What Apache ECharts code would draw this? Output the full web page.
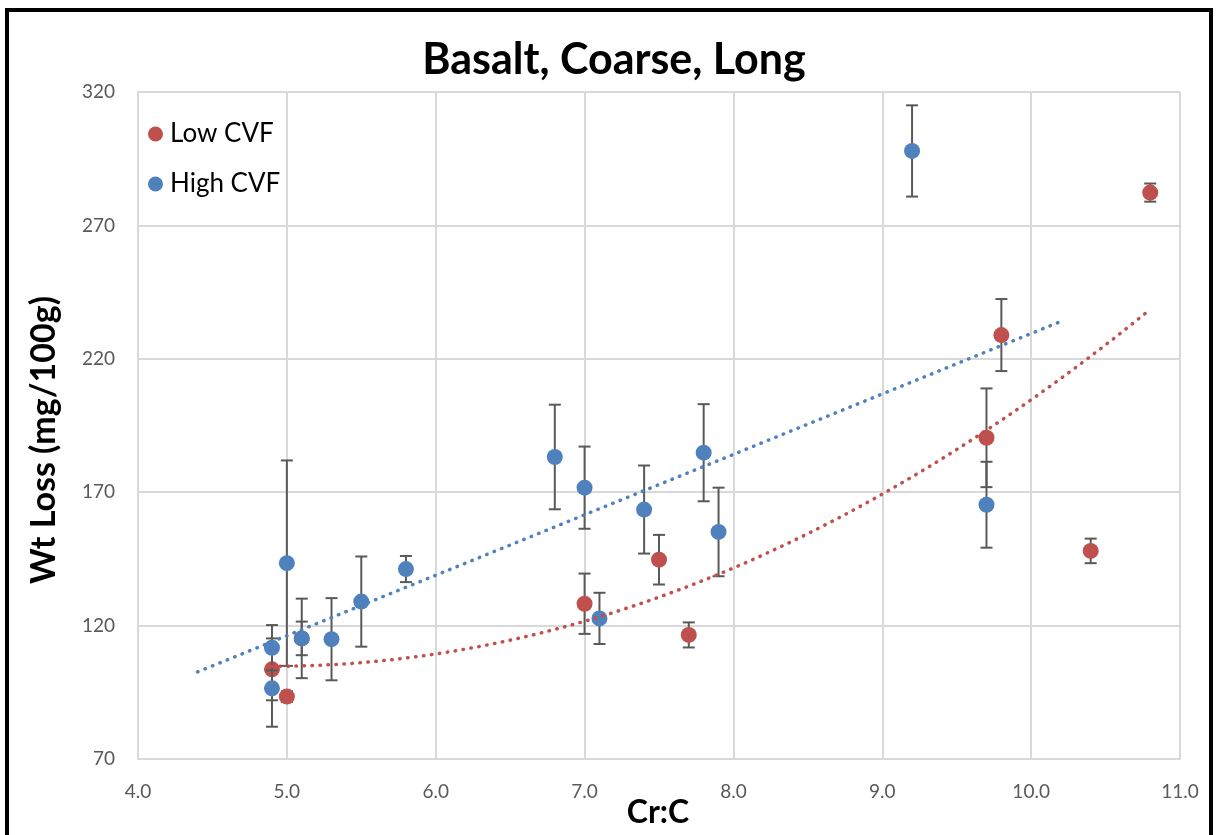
<!DOCTYPE html>
<html>
<head>
<meta charset="utf-8">
<script src="https://cdn.jsdelivr.net/npm/echarts@6/dist/echarts.min.js"></script>
<style>
html,body{margin:0;padding:0;background:#fff;}
#chart{width:1218px;height:835px;}
</style>
</head>
<body>
<div id="chart"></div>
<script>
// ---- data ----
const title = 'Basalt, Coarse, Long';
const xName = 'Cr:C';
const yName = 'Wt Loss (mg/100g)';
const seriesNames = ['Low CVF', 'High CVF'];

const lowX   = [4.9, 5.0, 5.1, 7.0, 7.5, 7.7, 9.7, 9.8, 10.4, 10.8];
const lowY   = [103.6, 93.4, 115.2, 128.2, 144.7, 116.5, 190.4, 228.9, 148.0, 282.3];
const lowErr = [11.6, 2.0, 6.3, 11.3, 9.3, 4.7, 18.5, 13.5, 4.6, 3.4];

const highX   = [4.9, 4.9, 5.0, 5.1, 5.3, 5.5, 5.8, 6.8, 7.0, 7.1, 7.4, 7.8, 7.9, 9.2, 9.7];
const highY   = [111.7, 96.5, 143.4, 115.2, 114.9, 129.0, 141.2, 183.2, 171.7, 122.7, 163.5, 184.8, 155.1, 297.9, 165.3];
const highErr = [8.5, 14.4, 38.5, 14.9, 15.4, 16.9, 4.9, 19.6, 15.4, 9.6, 16.5, 18.2, 16.6, 17.1, 16.1];

const xTicks = [4, 5, 6, 7, 8, 9, 10, 11];
const yTicks = [70, 120, 170, 220, 270, 320];

// ---- trendlines derived from the data (least squares, as the spreadsheet does) ----
function linFit(xs, ys) {
  const n = xs.length;
  const mx = xs.reduce((a, b) => a + b, 0) / n;
  const my = ys.reduce((a, b) => a + b, 0) / n;
  let sxy = 0, sxx = 0;
  for (let i = 0; i < n; i++) { sxy += (xs[i] - mx) * (ys[i] - my); sxx += (xs[i] - mx) ** 2; }
  const b = sxy / sxx;
  return x => my + b * (x - mx);
}
function polyFit2(xs, ys) {
  const S = k => xs.reduce((a, x) => a + Math.pow(x, k), 0);
  const T = k => xs.reduce((a, x, i) => a + Math.pow(x, k) * ys[i], 0);
  const A = [[S(0), S(1), S(2)], [S(1), S(2), S(3)], [S(2), S(3), S(4)]];
  const B = [T(0), T(1), T(2)];
  for (let i = 0; i < 3; i++) {
    for (let j = i + 1; j < 3; j++) {
      const f = A[j][i] / A[i][i];
      for (let k = i; k < 3; k++) A[j][k] -= f * A[i][k];
      B[j] -= f * B[i];
    }
  }
  const c = [0, 0, 0];
  for (let i = 2; i >= 0; i--) {
    let s = B[i];
    for (let k = i + 1; k < 3; k++) s -= A[i][k] * c[k];
    c[i] = s / A[i][i];
  }
  return x => c[0] + c[1] * x + c[2] * x * x;
}
function sample(f, x0, x1, step) {
  const out = [];
  const n = Math.round((x1 - x0) / step);
  for (let i = 0; i <= n; i++) { const x = x0 + (x1 - x0) * i / n; out.push([x, f(x)]); }
  return out;
}
const lowTrendFn = polyFit2(lowX, lowY);
const highTrendFn = linFit(highX, highY);
const lowTrend = sample(lowTrendFn, Math.min(...lowX), Math.max(...lowX), 0.05);
const highTrend = sample(highTrendFn, Math.min(...highX) - 0.5, Math.max(...highX) + 0.5, 0.1);

const RED = '#C0504D', BLUE = '#4F81BD', ERR = '#595959';
const FONT = 'Lato, "Open Sans", sans-serif';

function zip3(a, b, c) { return a.map((v, i) => [v, b[i], c[i]]); }

function errRender(params, api) {
  const x = api.value(0), y = api.value(1), e = api.value(2);
  const top = api.coord([x, y + e]);
  const bot = api.coord([x, y - e]);
  const h = 6;
  const style = { stroke: ERR, lineWidth: 2 };
  return {
    type: 'group',
    children: [
      { type: 'line', shape: { x1: top[0], y1: top[1], x2: bot[0], y2: bot[1] }, style },
      { type: 'line', shape: { x1: top[0] - h, y1: top[1], x2: top[0] + h, y2: top[1] }, style },
      { type: 'line', shape: { x1: bot[0] - h, y1: bot[1], x2: bot[0] + h, y2: bot[1] }, style }
    ]
  };
}

const chart = echarts.init(document.getElementById('chart'), null, { renderer: 'canvas' });
chart.setOption({
  backgroundColor: '#fff',
  animation: false,
  textStyle: { fontFamily: FONT },
  grid: { left: 138, right: 38, top: 92, bottom: 76, containLabel: false },
  graphic: [
    { type: 'rect', shape: { x: 7, y: 10, width: 1204, height: 900 }, style: { fill: 'none', stroke: '#000', lineWidth: 4 }, z: 100 },
    { type: 'text', x: 614, y: 60, style: { text: title, font: 'bold 43px ' + FONT, fill: '#000', textAlign: 'center', textVerticalAlign: 'middle' } },
    { type: 'text', x: 44, y: 440, rotation: Math.PI / 2, style: { text: yName, font: 'bold 34px ' + FONT, fill: '#000', textAlign: 'center', textVerticalAlign: 'middle' } },
    { type: 'text', x: 658, y: 813, style: { text: xName, font: 'bold 32px ' + FONT, fill: '#000', textAlign: 'center', textVerticalAlign: 'middle' } }
  ],
  legend: {
    data: seriesNames,
    orient: 'vertical',
    left: 143, top: 116,
    icon: 'circle',
    itemWidth: 15, itemHeight: 15,
    itemGap: 24,
    textStyle: { fontSize: 26, color: '#000', fontFamily: FONT, padding: [0, 0, 0, 2] }
  },
  xAxis: {
    type: 'value', min: xTicks[0], max: xTicks[xTicks.length - 1], interval: 1,
    axisLine: { show: true, lineStyle: { color: '#D9D9D9', width: 2 } },
    axisTick: { show: false },
    splitLine: { show: true, lineStyle: { color: '#D9D9D9', width: 2 } },
    axisLabel: { formatter: v => v.toFixed(1), color: '#595959', fontSize: 19, margin: 23, fontFamily: FONT }
  },
  yAxis: {
    type: 'value', min: yTicks[0], max: yTicks[yTicks.length - 1], interval: 50,
    axisLine: { show: true, lineStyle: { color: '#D9D9D9', width: 2 } },
    axisTick: { show: false },
    splitLine: { show: true, lineStyle: { color: '#D9D9D9', width: 2 } },
    axisLabel: { color: '#595959', fontSize: 19, margin: 23, fontFamily: FONT }
  },
  series: [
    { name: 'lowErr', type: 'custom', renderItem: errRender, data: zip3(lowX, lowY, lowErr), z: 2, silent: true },
    { name: seriesNames[0], type: 'scatter', data: lowX.map((x, i) => [x, lowY[i]]), symbolSize: 16, itemStyle: { color: RED, opacity: 1 }, z: 3 },
    { name: 'highErr', type: 'custom', renderItem: errRender, data: zip3(highX, highY, highErr), z: 4, silent: true },
    { name: seriesNames[1], type: 'scatter', data: highX.map((x, i) => [x, highY[i]]), symbolSize: 16, itemStyle: { color: BLUE, opacity: 1 }, z: 5 },
    { name: 'lowTrend', type: 'line', data: lowTrend, showSymbol: false, symbol: 'none', silent: true, z: 6,
      lineStyle: { color: RED, width: 3.5, type: [0.5, 7.5], cap: 'round' } },
    { name: 'highTrend', type: 'line', data: highTrend, showSymbol: false, symbol: 'none', silent: true, z: 6,
      lineStyle: { color: BLUE, width: 3.5, type: [0.5, 7.5], cap: 'round' } }
  ]
});
</script>
</body>
</html>
